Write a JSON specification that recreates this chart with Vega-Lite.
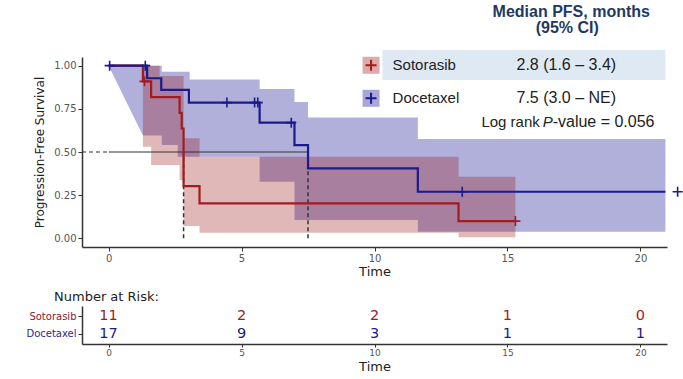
{
  "$schema": "https://vega.github.io/schema/vega-lite/v6.json",
  "background": "white",
  "padding": {"left": 25, "top": 3, "right": 5, "bottom": 3},
  "autosize": {"type": "pad"},
  "spacing": 13,
  "config": {
    "view": {"stroke": null},
    "axis": {"grid": false, "domainColor": "#333", "domainWidth": 1.5, "tickColor": "#333", "labelColor": "#555", "labelFont": "DejaVu Sans", "titleFont": "DejaVu Sans", "titleFontWeight": "normal", "titleColor": "#222"}
  },
  "datasets": {
    "km": [
      {"group": "Sotorasib", "t": 0, "s": 1},
      {"group": "Sotorasib", "t": 1.29, "s": 0.909},
      {"group": "Sotorasib", "t": 1.6, "s": 0.818},
      {"group": "Sotorasib", "t": 2.67, "s": 0.727},
      {"group": "Sotorasib", "t": 2.75, "s": 0.636},
      {"group": "Sotorasib", "t": 2.82, "s": 0.303},
      {"group": "Sotorasib", "t": 3.42, "s": 0.203},
      {"group": "Sotorasib", "t": 13.16, "s": 0.1},
      {"group": "Sotorasib", "t": 15.3, "s": 0.1},
      {"group": "Docetaxel", "t": 0, "s": 1},
      {"group": "Docetaxel", "t": 1.45, "s": 0.927},
      {"group": "Docetaxel", "t": 1.98, "s": 0.86},
      {"group": "Docetaxel", "t": 3.02, "s": 0.786},
      {"group": "Docetaxel", "t": 5.68, "s": 0.67},
      {"group": "Docetaxel", "t": 6.99, "s": 0.54},
      {"group": "Docetaxel", "t": 7.5, "s": 0.405},
      {"group": "Docetaxel", "t": 11.63, "s": 0.27},
      {"group": "Docetaxel", "t": 20.94, "s": 0.27}
    ],
    "blueband": [
      {"t": 0, "lo": 1.0, "hi": 1.0},
      {"t": 1.29, "lo": 0.595, "hi": 1.0},
      {"t": 2.0, "lo": 0.595, "hi": 1.0},
      {"t": 2.0, "lo": 0.54, "hi": 0.965},
      {"t": 2.6, "lo": 0.54, "hi": 0.965},
      {"t": 2.6, "lo": 0.473, "hi": 0.965},
      {"t": 3.05, "lo": 0.473, "hi": 0.965},
      {"t": 3.05, "lo": 0.473, "hi": 0.92},
      {"t": 5.68, "lo": 0.473, "hi": 0.92},
      {"t": 5.68, "lo": 0.328, "hi": 0.865},
      {"t": 6.99, "lo": 0.328, "hi": 0.865},
      {"t": 6.99, "lo": 0.106, "hi": 0.79},
      {"t": 7.5, "lo": 0.106, "hi": 0.79},
      {"t": 7.5, "lo": 0.106, "hi": 0.70},
      {"t": 11.63, "lo": 0.106, "hi": 0.70},
      {"t": 11.63, "lo": 0.038, "hi": 0.575},
      {"t": 20.94, "lo": 0.038, "hi": 0.575}
    ],
    "redband": [
      {"t": 1.29, "lo": 0.53, "hi": 1.0},
      {"t": 1.6, "lo": 0.53, "hi": 1.0},
      {"t": 1.6, "lo": 0.425, "hi": 1.0},
      {"t": 1.92, "lo": 0.425, "hi": 1.0},
      {"t": 1.92, "lo": 0.425, "hi": 0.94},
      {"t": 2.67, "lo": 0.425, "hi": 0.94},
      {"t": 2.67, "lo": 0.338, "hi": 0.94},
      {"t": 2.82, "lo": 0.338, "hi": 0.94},
      {"t": 2.82, "lo": 0.072, "hi": 0.58},
      {"t": 3.42, "lo": 0.072, "hi": 0.58},
      {"t": 3.42, "lo": 0.033, "hi": 0.473},
      {"t": 13.16, "lo": 0.033, "hi": 0.473},
      {"t": 13.16, "lo": 0.006, "hi": 0.357},
      {"t": 15.3, "lo": 0.006, "hi": 0.357}
    ],
    "censor": [
      {"group": "Docetaxel", "t": 0.04, "s": 1.0},
      {"group": "Docetaxel", "t": 1.38, "s": 1.0},
      {"group": "Docetaxel", "t": 4.45, "s": 0.786},
      {"group": "Docetaxel", "t": 5.49, "s": 0.786},
      {"group": "Docetaxel", "t": 5.61, "s": 0.786},
      {"group": "Docetaxel", "t": 6.87, "s": 0.67},
      {"group": "Docetaxel", "t": 13.3, "s": 0.27},
      {"group": "Docetaxel", "t": 21.4, "s": 0.27},
      {"group": "Sotorasib", "t": 1.35, "s": 0.909},
      {"group": "Sotorasib", "t": 15.3, "s": 0.1}
    ],
    "risk": [
      {"group": "Sotorasib", "t": 0, "n": 11},
      {"group": "Sotorasib", "t": 5, "n": 2},
      {"group": "Sotorasib", "t": 10, "n": 2},
      {"group": "Sotorasib", "t": 15, "n": 1},
      {"group": "Sotorasib", "t": 20, "n": 0},
      {"group": "Docetaxel", "t": 0, "n": 17},
      {"group": "Docetaxel", "t": 5, "n": 9},
      {"group": "Docetaxel", "t": 10, "n": 3},
      {"group": "Docetaxel", "t": 15, "n": 1},
      {"group": "Docetaxel", "t": 20, "n": 1}
    ]
  },
  "vconcat": [
    {
      "width": 585,
      "height": 190,
      "layer": [
        {
          "data": {"name": "blueband"},
          "mark": {"type": "area", "fill": "#00008b", "fillOpacity": 0.31, "interpolate": "linear"},
          "encoding": {
            "x": {"field": "t", "type": "quantitative", "scale": {"domain": [-1, 21], "nice": false, "zero": false},
                  "axis": {"values": [0, 5, 10, 15, 20], "title": "Time", "labelFontSize": 10, "tickSize": 4, "labelPadding": 2, "titleFontSize": 13, "titlePadding": 2}},
            "y": {"field": "lo", "type": "quantitative", "scale": {"domain": [-0.05, 1.05], "nice": false, "zero": false},
                  "axis": {"values": [0, 0.25, 0.5, 0.75, 1], "format": ".2f", "title": "Progression-Free Survival", "labelFontSize": 10, "tickSize": 4, "labelPadding": 2, "titleFontSize": 12, "titlePadding": 7}},
            "y2": {"field": "hi"}
          }
        },
        {
          "data": {"name": "redband"},
          "mark": {"type": "area", "fill": "#940000", "fillOpacity": 0.28, "interpolate": "linear"},
          "encoding": {
            "x": {"field": "t", "type": "quantitative"},
            "y": {"field": "lo", "type": "quantitative"},
            "y2": {"field": "hi"}
          }
        },
        {
          "data": {"values": [{"x": -1, "x2": 0, "y": 0.5}]},
          "mark": {"type": "rule", "color": "#333", "strokeWidth": 1.2, "strokeDash": [4, 3]},
          "encoding": {"x": {"field": "x", "type": "quantitative"}, "x2": {"field": "x2"}, "y": {"field": "y", "type": "quantitative"}}
        },
        {
          "data": {"values": [{"x": 0, "x2": 7.5, "y": 0.5}]},
          "mark": {"type": "rule", "color": "#333", "strokeWidth": 1.2},
          "encoding": {"x": {"field": "x", "type": "quantitative"}, "x2": {"field": "x2"}, "y": {"field": "y", "type": "quantitative"}}
        },
        {
          "data": {"values": [{"x": 2.82, "y": 0, "y2": 0.5}, {"x": 7.5, "y": 0, "y2": 0.5}]},
          "mark": {"type": "rule", "color": "#333", "strokeWidth": 1.5, "strokeDash": [4, 3]},
          "encoding": {"x": {"field": "x", "type": "quantitative"}, "y": {"field": "y", "type": "quantitative"}, "y2": {"field": "y2"}}
        },
        {
          "data": {"name": "km"},
          "mark": {"type": "line", "interpolate": "step-after", "strokeWidth": 2.2},
          "encoding": {
            "x": {"field": "t", "type": "quantitative"},
            "y": {"field": "s", "type": "quantitative"},
            "color": {"field": "group", "type": "nominal", "scale": {"domain": ["Sotorasib", "Docetaxel"], "range": ["#a11b1f", "#1a1a8c"]}, "legend": null}
          }
        },
        {
          "data": {"name": "censor"},
          "mark": {"type": "point", "shape": "M -1 0 L 1 0 M 0 -1 L 0 1", "filled": false, "size": 100, "strokeWidth": 1.6, "opacity": 1},
          "encoding": {
            "x": {"field": "t", "type": "quantitative"},
            "y": {"field": "s", "type": "quantitative"},
            "color": {"field": "group", "type": "nominal", "legend": null}
          }
        },
        {
          "data": {"values": [{"x": 10.3, "x2": 20.94, "y": 0.917, "y2": 1.091}]},
          "mark": {"type": "rect", "color": "#dfe9f3"},
          "encoding": {"x": {"field": "x", "type": "quantitative"}, "x2": {"field": "x2"}, "y": {"field": "y", "type": "quantitative"}, "y2": {"field": "y2"}}
        },
        {
          "data": {"values": [{"group": "Sotorasib", "x": 9.87, "y": 1.002, "fill": "#deaaaa"}, {"group": "Docetaxel", "x": 9.87, "y": 0.811, "fill": "#a7a7d8"}]},
          "mark": {"type": "square", "size": 289, "opacity": 1},
          "encoding": {
            "x": {"field": "x", "type": "quantitative"},
            "y": {"field": "y", "type": "quantitative"},
            "fill": {"field": "fill", "type": "nominal", "scale": null}
          }
        },
        {
          "data": {"values": [{"group": "Sotorasib", "x": 9.87, "y": 1.002}, {"group": "Docetaxel", "x": 9.87, "y": 0.811}]},
          "mark": {"type": "point", "shape": "M -1 0 L 1 0 M 0 -1 L 0 1", "filled": false, "size": 121, "strokeWidth": 2, "opacity": 1},
          "encoding": {
            "x": {"field": "x", "type": "quantitative"},
            "y": {"field": "y", "type": "quantitative"},
            "color": {"field": "group", "type": "nominal", "legend": null}
          }
        },
        {
          "data": {"values": [
            {"x": 10.68, "y": 1.002, "label": "Sotorasib"},
            {"x": 10.68, "y": 0.811, "label": "Docetaxel"},
            {"x": 14.02, "y": 0.674, "label": "Log rank"}
          ]},
          "mark": {"type": "text", "align": "left", "baseline": "middle", "font": "Liberation Sans", "fontSize": 15, "color": "#222"},
          "encoding": {"x": {"field": "x", "type": "quantitative"}, "y": {"field": "y", "type": "quantitative"}, "text": {"field": "label"}}
        },
        {
          "data": {"values": [
            {"x": 15.34, "y": 1.002, "label": "2.8 (1.6 – 3.4)"},
            {"x": 15.34, "y": 0.811, "label": "7.5 (3.0 – NE)"},
            {"x": 16.7, "y": 0.674, "label": "-value = 0.056"}
          ]},
          "mark": {"type": "text", "align": "left", "baseline": "middle", "font": "Liberation Sans", "fontSize": 16, "color": "#222"},
          "encoding": {"x": {"field": "x", "type": "quantitative"}, "y": {"field": "y", "type": "quantitative"}, "text": {"field": "label"}}
        },
        {
          "data": {"values": [{"x": 16.33, "y": 0.674, "label": "P"}]},
          "mark": {"type": "text", "align": "left", "baseline": "middle", "font": "Liberation Sans", "fontSize": 15, "fontStyle": "italic", "color": "#222"},
          "encoding": {"x": {"field": "x", "type": "quantitative"}, "y": {"field": "y", "type": "quantitative"}, "text": {"field": "label"}}
        },
        {
          "data": {"values": [{"x": 17.4, "y": 1.311, "label": "Median PFS, months"}, {"x": 17.25, "y": 1.218, "label": "(95%  CI)"}]},
          "mark": {"type": "text", "align": "center", "baseline": "middle", "font": "Liberation Sans", "fontSize": 16, "fontWeight": "bold", "color": "#1f3864"},
          "encoding": {"x": {"field": "x", "type": "quantitative"}, "y": {"field": "y", "type": "quantitative"}, "text": {"field": "label"}}
        }
      ]
    },
    {
      "width": 585,
      "height": 38,
      "title": {"text": "Number at Risk:", "anchor": "start", "frame": "group", "dx": -28, "fontSize": 13, "font": "DejaVu Sans", "fontWeight": "normal", "color": "#222", "offset": 2},
      "data": {"name": "risk"},
      "mark": {"type": "text", "font": "DejaVu Sans", "fontSize": 14.5, "baseline": "middle"},
      "encoding": {
        "x": {"field": "t", "type": "quantitative", "scale": {"domain": [-1, 21], "nice": false, "zero": false},
              "axis": {"values": [0, 5, 10, 15, 20], "title": "Time", "labelFontSize": 9, "tickSize": 3, "labelPadding": 1, "titleFontSize": 13, "titlePadding": 3}},
        "y": {"field": "group", "type": "nominal", "scale": {"type": "point", "domain": ["Sotorasib", "Docetaxel"], "padding": 0.56},
              "axis": {"title": null, "labelFontSize": 10, "tickSize": 4, "labelPadding": 2, "labelColor": {"expr": "datum.value == 'Sotorasib' ? '#8b1a2b' : '#2b2b8b'"}}},
        "text": {"field": "n", "type": "quantitative"},
        "color": {"field": "group", "type": "nominal", "scale": {"domain": ["Sotorasib", "Docetaxel"], "range": ["#a0282a", "#2a2a8c"]}, "legend": null}
      }
    }
  ]
}
